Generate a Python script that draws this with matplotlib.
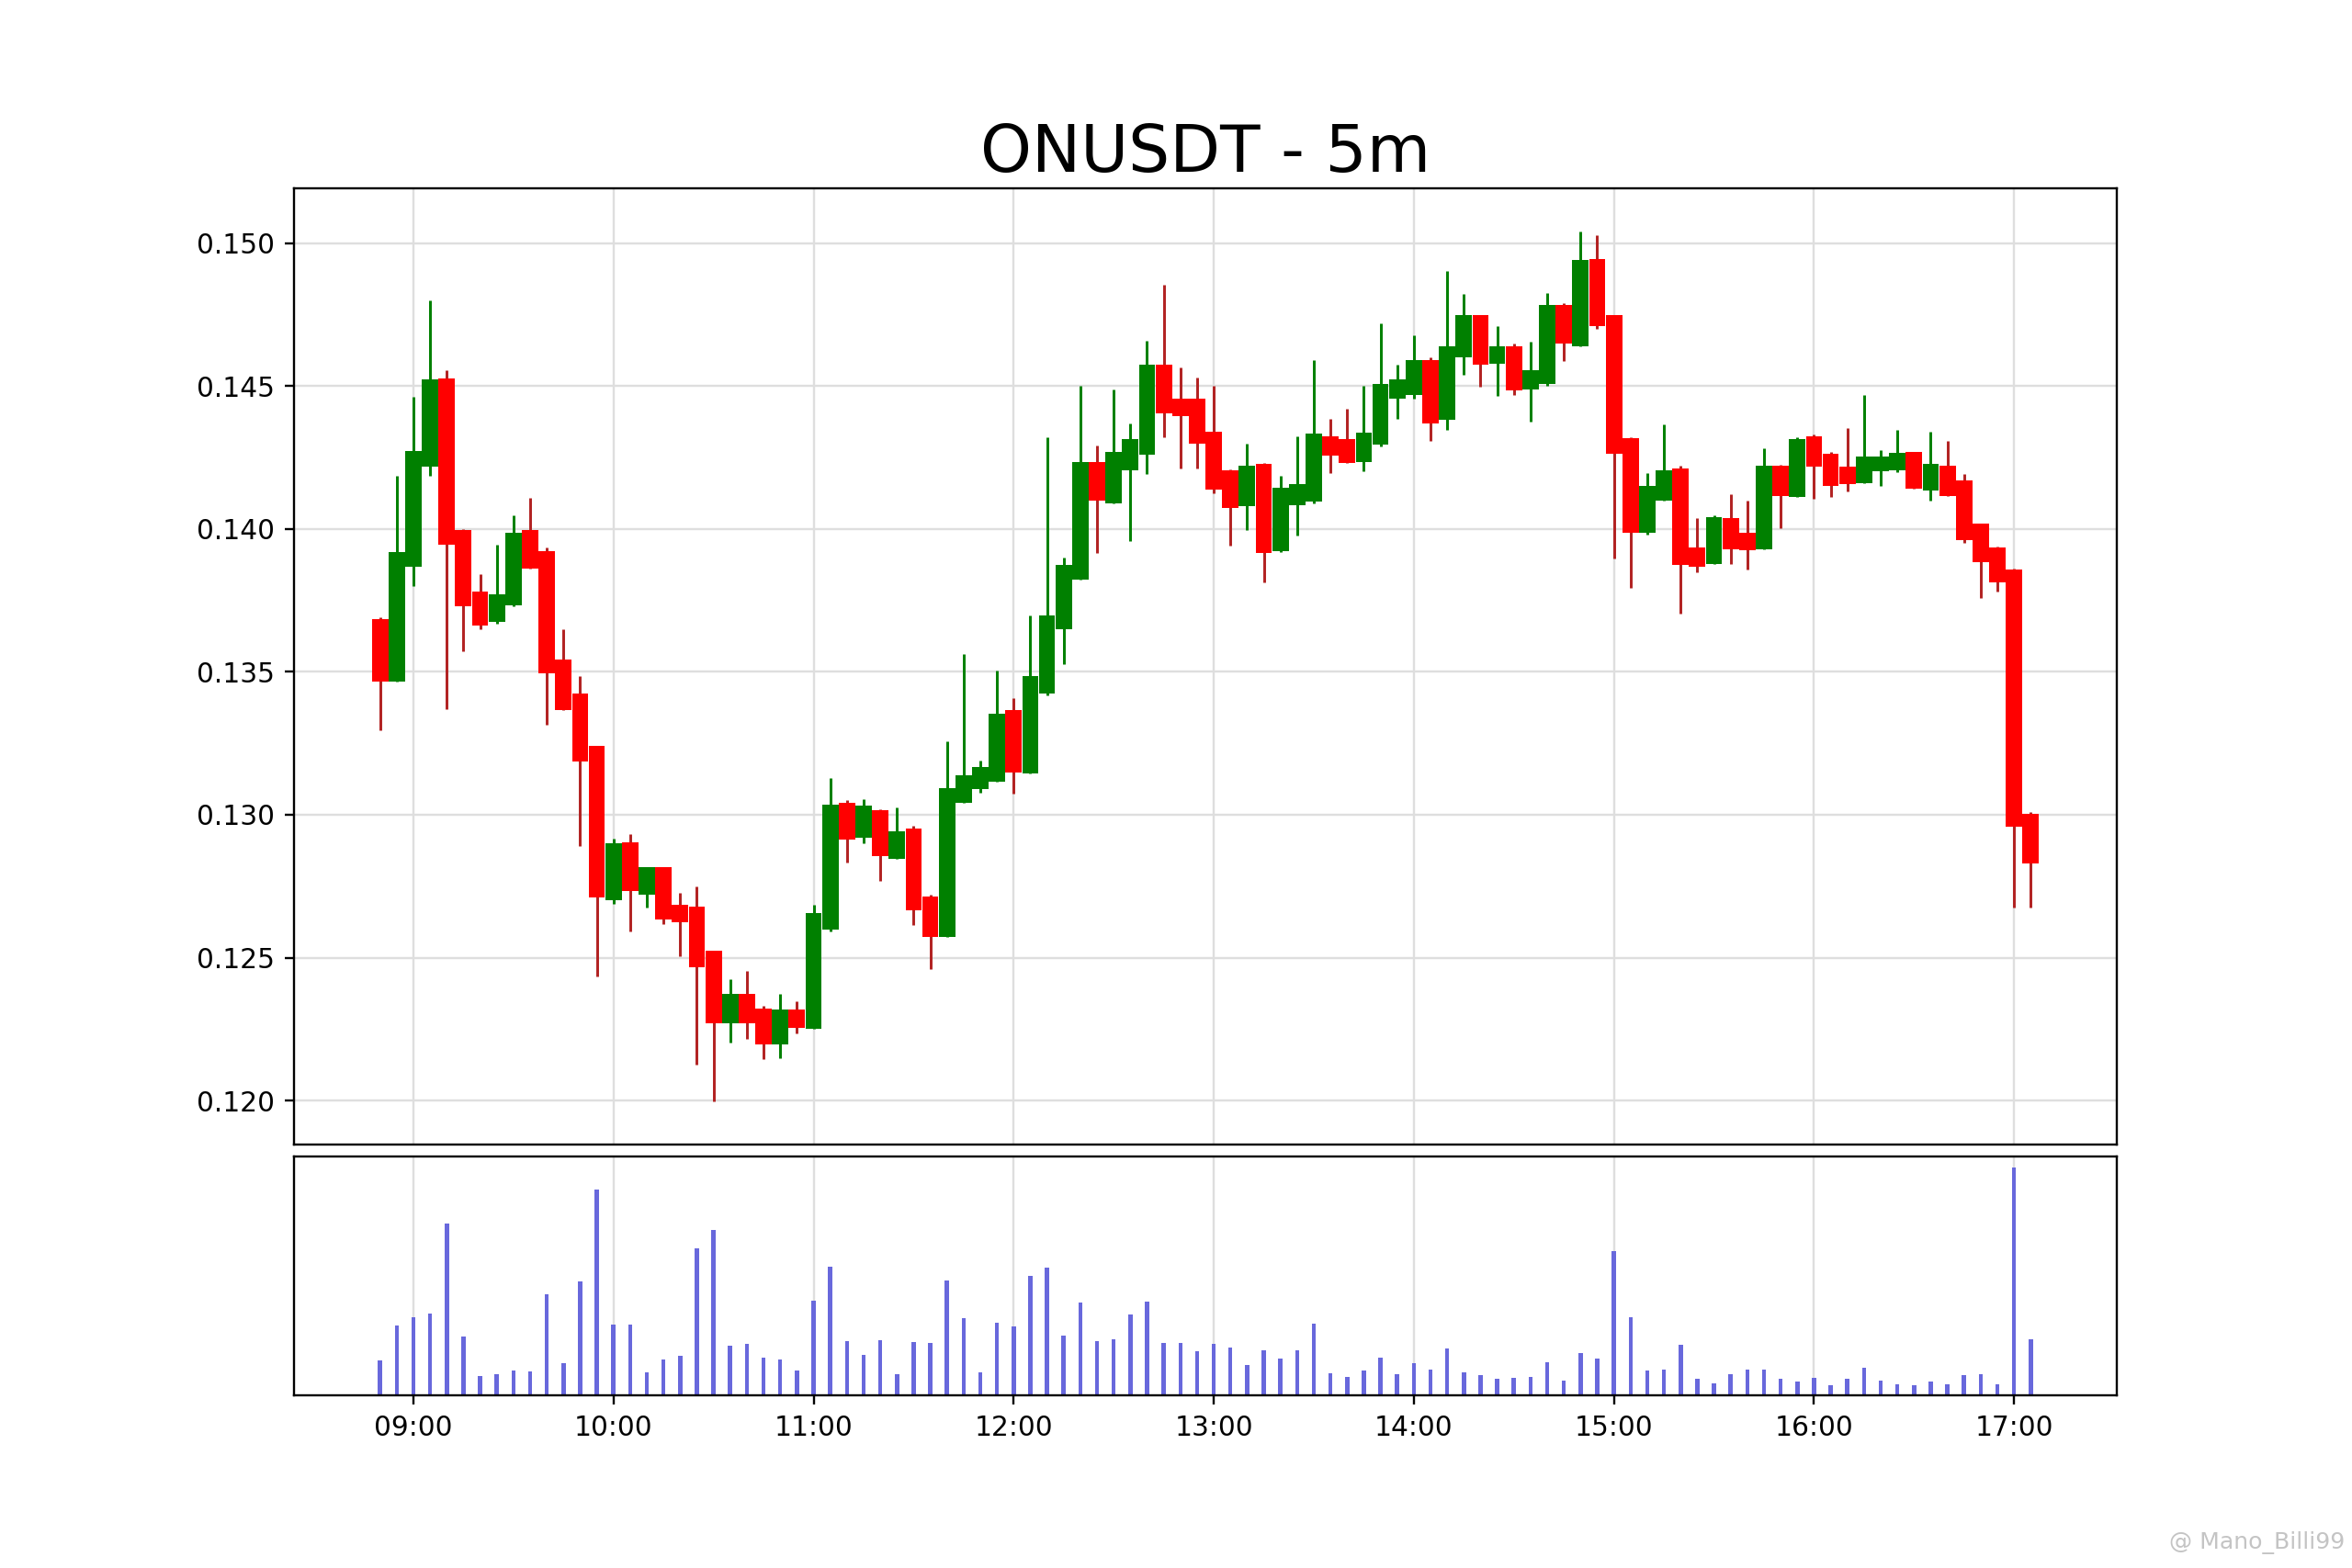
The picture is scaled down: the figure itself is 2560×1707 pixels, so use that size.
import matplotlib
matplotlib.use('Agg')
import matplotlib.pyplot as plt
import matplotlib.dates as mdates
import pandas as pd

# 5 minute candles, 08:50 - 17:05
times = pd.date_range('2024-01-01 08:50', periods=100, freq='5min')

opens = [0.13684, 0.13465, 0.13867, 0.14217, 0.14527, 0.13998, 0.13781, 0.13674, 0.13732, 0.13998,
         0.13924, 0.13543, 0.13424, 0.13240, 0.12701, 0.12902, 0.12721, 0.12818, 0.12685, 0.12677,
         0.12523, 0.12271, 0.12373, 0.12322, 0.12195, 0.12318, 0.12250, 0.12599, 0.13043, 0.12920,
         0.13015, 0.12845, 0.12951, 0.12715, 0.12572, 0.13043, 0.13090, 0.13117, 0.13365, 0.13146,
         0.13424, 0.13648, 0.13822, 0.14234, 0.14090, 0.14207, 0.14260, 0.14576, 0.14457, 0.14457,
         0.14340, 0.14205, 0.14080, 0.14228, 0.13924, 0.14084, 0.14096, 0.14324, 0.14316, 0.14234,
         0.14295, 0.14457, 0.14468, 0.14592, 0.14381, 0.14600, 0.14750, 0.14580, 0.14641, 0.14488,
         0.14508, 0.14785, 0.14641, 0.14945, 0.14750, 0.14318, 0.13986, 0.14098, 0.14213, 0.13937,
         0.13879, 0.14039, 0.13986, 0.13930, 0.14223, 0.14111, 0.14324, 0.14262, 0.14217, 0.14162,
         0.14201, 0.14207, 0.14269, 0.14135, 0.14221, 0.14170, 0.14019, 0.13937, 0.13859, 0.13002]
highs = [0.13690, 0.14187, 0.14463, 0.14801, 0.14555, 0.14000, 0.13842, 0.13945, 0.14049, 0.14109,
         0.13937, 0.13650, 0.13484, 0.13240, 0.12916, 0.12931, 0.12818, 0.12818, 0.12726, 0.12748,
         0.12523, 0.12424, 0.12455, 0.12330, 0.12373, 0.12346, 0.12685, 0.13129, 0.13050, 0.13053,
         0.13020, 0.13025, 0.12960, 0.12720, 0.13258, 0.13562, 0.13189, 0.13504, 0.13408, 0.13699,
         0.14320, 0.13900, 0.14500, 0.14293, 0.14490, 0.14371, 0.14658, 0.14855, 0.14566, 0.14531,
         0.14500, 0.14210, 0.14299, 0.14230, 0.14187, 0.14326, 0.14592, 0.14387, 0.14422, 0.14500,
         0.14719, 0.14576, 0.14678, 0.14600, 0.14902, 0.14822, 0.14750, 0.14709, 0.14650, 0.14654,
         0.14826, 0.14790, 0.15041, 0.15027, 0.14750, 0.14320, 0.14197, 0.14365, 0.14220, 0.14039,
         0.14049, 0.14121, 0.14098, 0.14283, 0.14225, 0.14320, 0.14330, 0.14270, 0.14355, 0.14469,
         0.14275, 0.14348, 0.14270, 0.14340, 0.14309, 0.14193, 0.14020, 0.13940, 0.13860, 0.13008]
lows = [0.13295, 0.13465, 0.13801, 0.14187, 0.13371, 0.13572, 0.13650, 0.13670, 0.13730, 0.13860,
        0.13314, 0.13367, 0.12890, 0.12435, 0.12687, 0.12592, 0.12675, 0.12617, 0.12506, 0.12125,
        0.11998, 0.12203, 0.12215, 0.12144, 0.12148, 0.12236, 0.12250, 0.12592, 0.12834, 0.12900,
        0.12767, 0.12845, 0.12613, 0.12459, 0.12572, 0.13043, 0.13076, 0.13117, 0.13074, 0.13146,
        0.13418, 0.13527, 0.13822, 0.13916, 0.14090, 0.13957, 0.14193, 0.14320, 0.14211, 0.14213,
        0.14125, 0.13941, 0.13998, 0.13814, 0.13920, 0.13978, 0.14090, 0.14195, 0.14230, 0.14203,
        0.14290, 0.14385, 0.14457, 0.14309, 0.14346, 0.14541, 0.14498, 0.14467, 0.14469, 0.14377,
        0.14500, 0.14588, 0.14640, 0.14700, 0.13896, 0.13795, 0.13980, 0.14098, 0.13703, 0.13848,
        0.13879, 0.13879, 0.13859, 0.13930, 0.14002, 0.14111, 0.14105, 0.14111, 0.14131, 0.14160,
        0.14150, 0.14200, 0.14141, 0.14100, 0.14115, 0.13951, 0.13760, 0.13781, 0.12676, 0.12676]
closes = [0.13465, 0.13920, 0.14273, 0.14525, 0.13945, 0.13730, 0.13662, 0.13773, 0.13986, 0.13863,
          0.13494, 0.13367, 0.13187, 0.12711, 0.12900, 0.12732, 0.12818, 0.12633, 0.12625, 0.12465,
          0.12271, 0.12373, 0.12271, 0.12195, 0.12318, 0.12254, 0.12656, 0.13035, 0.12912, 0.13031,
          0.12855, 0.12943, 0.12664, 0.12572, 0.13092, 0.13137, 0.13168, 0.13355, 0.13148, 0.13486,
          0.13699, 0.13873, 0.14234, 0.14100, 0.14269, 0.14316, 0.14576, 0.14406, 0.14396, 0.14299,
          0.14139, 0.14074, 0.14221, 0.13916, 0.14146, 0.14156, 0.14334, 0.14256, 0.14232, 0.14338,
          0.14508, 0.14523, 0.14592, 0.14371, 0.14641, 0.14750, 0.14576, 0.14641, 0.14484, 0.14555,
          0.14785, 0.14648, 0.14941, 0.14709, 0.14264, 0.13986, 0.14150, 0.14207, 0.13873, 0.13869,
          0.14043, 0.13930, 0.13926, 0.14223, 0.14115, 0.14316, 0.14217, 0.14150, 0.14156, 0.14254,
          0.14254, 0.14266, 0.14141, 0.14228, 0.14115, 0.13961, 0.13883, 0.13812, 0.12957, 0.12828]
# volume in thousands (no scale shown on the chart)
volumes = [114, 229, 256, 267, 562, 192, 64, 69, 82, 79,
           330, 105, 372, 673, 232, 232, 75, 117, 129, 480,
           540, 162, 169, 124, 117, 82, 310, 421, 179, 132,
           180, 69, 175, 172, 375, 252, 77, 239, 225, 392,
           417, 195, 304, 179, 183, 264, 306, 171, 173, 145,
           169, 158, 99, 148, 120, 148, 234, 72, 62, 82,
           124, 69, 105, 84, 154, 76, 67, 54, 59, 62,
           109, 49, 139, 121, 471, 256, 82, 84, 165, 54,
           40, 70, 84, 84, 54, 46, 58, 34, 55, 90,
           48, 38, 34, 47, 37, 67, 69, 37, 744, 184]

x = mdates.date2num(times)
step = 5 / (24 * 60)

dpi = 2560 / 12
fig, (ax1, ax2) = plt.subplots(2, 1, sharex=True, figsize=(12, 1707 / dpi),
                               gridspec_kw={'height_ratios': [4, 1], 'hspace': 0.02})

# candles: wicks first, bodies on top
for i in range(len(x)):
    up = closes[i] >= opens[i]
    body_col = 'green' if up else 'red'
    wick_col = 'green' if up else '#b22222'
    ax1.vlines(x[i], lows[i], highs[i], color=wick_col, linewidth=1, zorder=2)
    ax1.bar(x[i], abs(closes[i] - opens[i]), bottom=min(opens[i], closes[i]),
            width=step * 0.98, color=body_col, zorder=3)

ax1.set_title('ONUSDT - 5m', fontsize=24)
ax1.grid(True, color='#dedede', linewidth=0.8, zorder=0)
ax1.set_axisbelow(True)
ax1.set_ylim(0.11846, 0.15193)
ax1.tick_params(axis='x', bottom=False)

# volume
ax2.bar(x, volumes, width=step * 0.25, color='#6868dc')
ax2.set_yticks([])
ax2.grid(True, axis='x', color='#dedede', linewidth=0.8)
ax2.set_axisbelow(True)

ax2.xaxis.set_major_locator(mdates.HourLocator())
ax2.xaxis.set_major_formatter(mdates.DateFormatter('%H:%M'))
ax2.set_xlim(x[0] - 5.16 * step, x[-1] + 5.16 * step)

fig.text(0.997, 0.016, '@ Mano_Billi99', ha='right', va='center',
         fontsize=8.5, color='#c4c4c4')

fig.savefig('out.png', dpi=dpi)
